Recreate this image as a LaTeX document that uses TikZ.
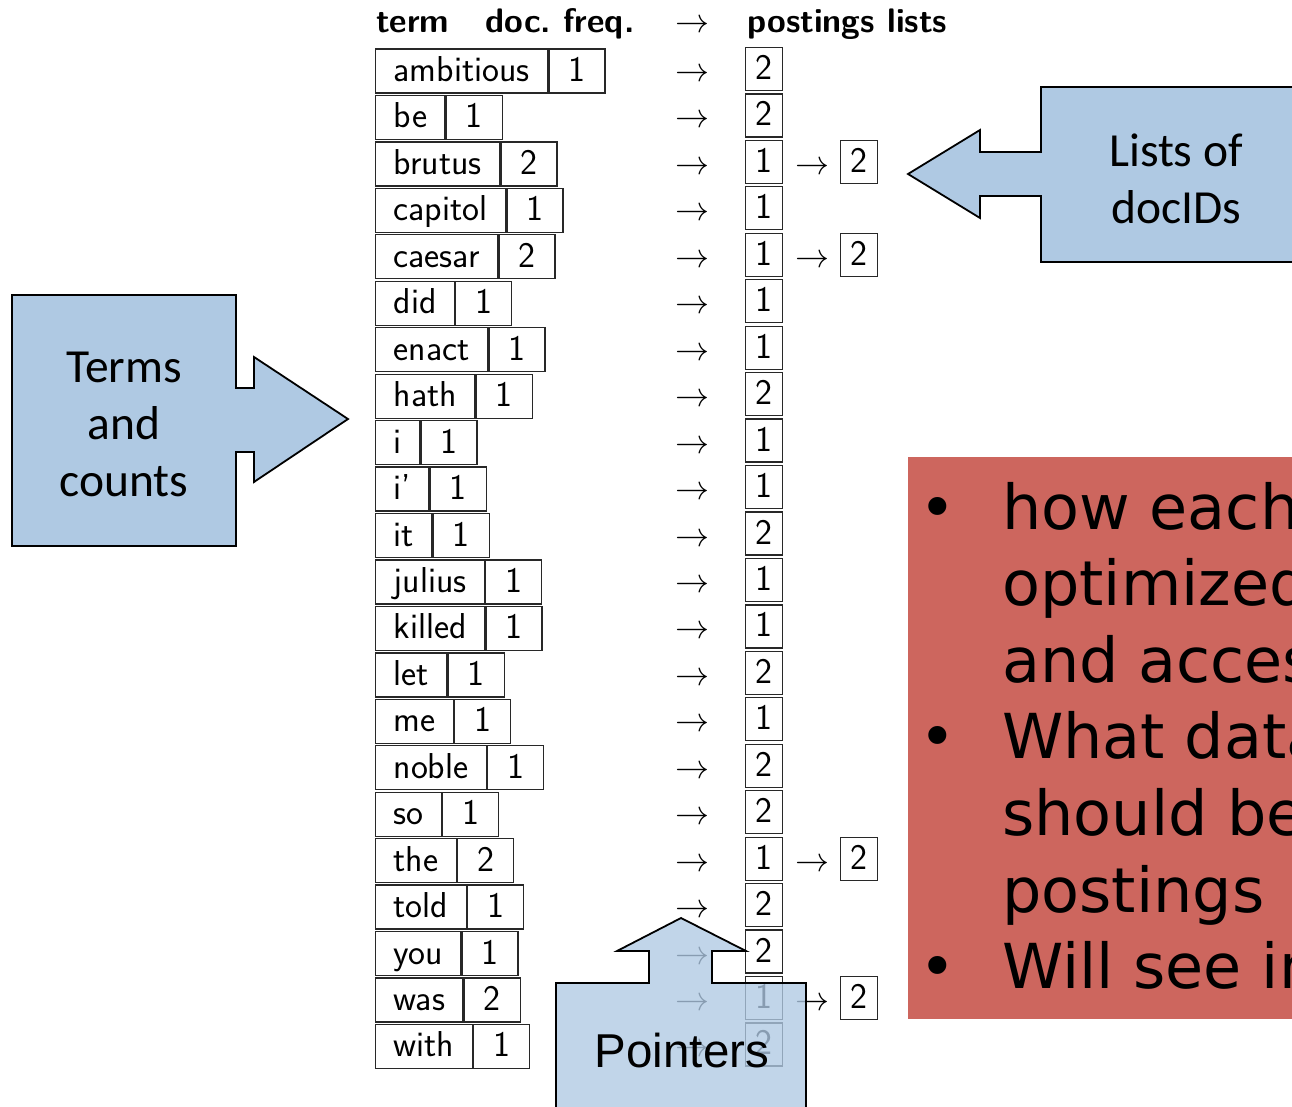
\RequirePackage{fix-cm}
\documentclass[tikz,border=0pt]{standalone}
\usepackage{fontspec}
\newfontfamily\calib{Carlito}
\newfontfamily\dejav{DejaVu Sans}
\newfontfamily\arialf{Liberation Sans}
\definecolor{callblue}{RGB}{175,201,227}
\definecolor{boxred}{RGB}{205,102,94}
\definecolor{tabline}{RGB}{40,40,40}
\newcommand\tabfont{\sffamily\fontsize{36}{42}\selectfont}
\newcommand\arrfont{\sffamily\fontsize{34}{40}\selectfont}
\newcommand\headfont{\sffamily\bfseries\fontsize{34}{40}\selectfont}
\begin{document}
\begin{tikzpicture}[x=1pt,y=-1pt,
  termcell/.style={draw=tabline, line width=1.3, font=\tabfont, inner xsep=18, inner ysep=3.5, text height=29, text depth=8, anchor=west},
  countcell/.style={termcell, minimum width=56},
  postbox/.style={draw=tabline, line width=1.3, font=\tabfont, inner xsep=0, inner ysep=3, text height=29, text depth=8, minimum width=37},
  ptr/.style={font=\arrfont, inner sep=0, anchor=base},
  headtxt/.style={font=\headfont, inner sep=0, anchor=base west},
  callout/.style={draw=black, line width=1.8, fill=callblue, line join=miter},
  calltext/.style={font=\calib\fontsize{47.5}{57}\selectfont, align=center, inner sep=0},
  redline/.style={font=\dejav\fontsize{62}{76}\selectfont, anchor=base west, inner sep=0}
]
\useasboundingbox (0,0) rectangle (1292,1107);
\clip (0,0) rectangle (1292,1107);

% header
\node[headtxt] (hterm) at (376,33) {term};
\node[headtxt] (hfreq) at (485,33) {doc.\ freq.};
\node[ptr] (harr) at (692,33) {$\to$};
\node[headtxt] (hpost) at (747,33) {postings lists};

% table rows
\foreach \t/\c/\p/\q [count=\i] in {ambitious/1/2/0, be/1/2/0, brutus/2/1/2, capitol/1/1/0, caesar/2/1/2, did/1/1/0, enact/1/1/0, hath/1/2/0, i/1/1/0, {i’}/1/1/0, it/1/2/0, julius/1/1/0, killed/1/1/0, let/1/2/0, me/1/1/0, noble/1/2/0, so/1/2/0, the/2/1/2, told/1/2/0, you/1/2/0, was/2/1/2, with/1/2/0}{
  \pgfmathsetmacro\yy{71+(\i-1)*46.45}
  \node[termcell] (t\i) at (375,\yy) {\t};
  \node[countcell] (c\i) at (t\i.east) {\c};
  \node[ptr] (a\i) at (692,{\yy+10.5}) {$\to$};
  \node[postbox] (p\i) at (764,{\yy-2}) {\p};
  \ifnum\q>0
    \node[ptr] (b\i) at (812,{\yy+10.5}) {$\to$};
    \node[postbox] (q\i) at (859,{\yy-2}) {\q};
  \fi
}

% red box
\fill[boxred] (908,457) rectangle (1320,1019);
\foreach \s [count=\k] in {how each, optimized, and access, What data, should be, postings, Will see in}{
  \node[redline] (r\k) at (1002,{529+(\k-1)*76.6}) {\s};
}
\foreach \k in {1,4,7}{
  \node[redline, anchor=base] (bul\k) at (938,{529+(\k-1)*76.6}) {•};
}

% Terms and counts callout
\path[callout] (12,295) -- (236,295) -- (236,388) -- (254,388) -- (254,357) -- (348,419) -- (254,482) -- (254,452) -- (236,452) -- (236,546) -- (12,546) -- cycle;
\node[calltext] (termsl) at (124,424) {Terms\\and\\counts};

% Lists of docIDs callout
\path[callout] (1041,87) -- (1330,87) -- (1330,262) -- (1041,262) -- (1041,196) -- (980,196) -- (980,218) -- (908,174) -- (980,130) -- (980,152) -- (1041,152) -- cycle;
\node[calltext] (listsl) at (1176,179) {Lists of\\docIDs};

% Pointers callout
\path[callout, fill opacity=0.78] (556,1140) -- (556,983) -- (649,983) -- (649,951) -- (617,951) -- (681,918) -- (746,951) -- (712,951) -- (712,983) -- (806,983) -- (806,1140) -- cycle;
\node[font=\arialf\fontsize{47.5}{56}\selectfont, inner sep=0, anchor=base] (ptrl) at (682,1067) {Pointers};
\end{tikzpicture}
\end{document}
